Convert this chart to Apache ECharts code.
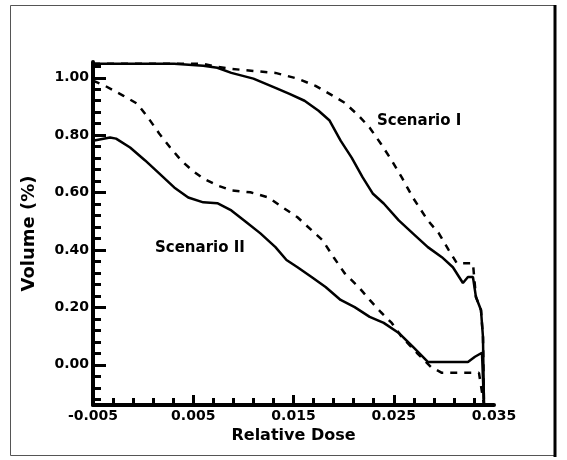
<!DOCTYPE html>
<html>
<head>
<meta charset="utf-8">
<script src="https://cdn.jsdelivr.net/npm/echarts@6/dist/echarts.min.js"></script>
<style>
html,body{margin:0;padding:0;background:#fff;}
#chart{width:567px;height:460px;}
</style>
</head>
<body>
<div id="chart"></div>
<script>
// ---- data ----
const xLabelValues = [-0.005, 0.005, 0.015, 0.025, 0.035];
const xTickLabels = ['-0.005', '0.005', '0.015', '0.025', '0.035'];
const xMinorTicks = [-0.005,-0.003,-0.001,0.001,0.003,0.005,0.007,0.009,0.011,0.013,0.015,0.017,0.019,0.021,0.023,0.025,0.027,0.029,0.031,0.033];
const yLabelValues = [0, 0.2, 0.4, 0.6, 0.8, 1.0];
const yTickLabels = ['0.00', '0.20', '0.40', '0.60', '0.80', '1.00'];
const yMinorTicks = [-0.12,-0.08,-0.04,0,0.04,0.08,0.12,0.16,0.2,0.24,0.28,0.32,0.36,0.4,0.44,0.48,0.52,0.56,0.6,0.64,0.68,0.72,0.76,0.8,0.84,0.88,0.92,0.96,1.0,1.04];

const scenarioISolid = [
  [-0.005,1.049],[-0.0023,1.049],[0.0031,1.049],[0.006,1.042],[0.0074,1.035],[0.0088,1.017],
  [0.011,0.997],[0.0132,0.965],[0.0146,0.944],[0.0161,0.920],[0.0175,0.885],[0.0186,0.851],
  [0.0197,0.781],[0.0208,0.722],[0.0219,0.653],[0.0229,0.597],[0.024,0.562],[0.0255,0.503],
  [0.0269,0.458],[0.0284,0.410],[0.0298,0.375],[0.0309,0.340],[0.0319,0.285],[0.0324,0.306],
  [0.0329,0.306],[0.0332,0.236],[0.0337,0.191],[0.0339,0.097],[0.034,-0.139]
];
const scenarioIDashed = [
  [-0.005,1.049],[0.006,1.049],[0.0074,1.038],[0.0088,1.031],[0.011,1.024],[0.0132,1.017],
  [0.0154,0.997],[0.0172,0.972],[0.0186,0.944],[0.0201,0.913],[0.0215,0.868],[0.0226,0.826],
  [0.0237,0.771],[0.0248,0.712],[0.0258,0.653],[0.0269,0.583],[0.0284,0.503],[0.0295,0.458],
  [0.0305,0.399],[0.0313,0.354],[0.0329,0.354],[0.0332,0.236],[0.0337,0.191],[0.0339,0.097],
  [0.034,-0.139]
];
const scenarioIISolid = [
  [-0.005,0.781],[-0.0033,0.792],[-0.0027,0.788],[-0.0013,0.757],[0.0002,0.712],[0.0016,0.667],
  [0.0031,0.618],[0.0045,0.583],[0.006,0.566],[0.0074,0.563],[0.0088,0.538],[0.0103,0.497],
  [0.0117,0.458],[0.0132,0.410],[0.0143,0.365],[0.0154,0.340],[0.0168,0.306],[0.0182,0.271],
  [0.0197,0.226],[0.0211,0.201],[0.0226,0.167],[0.024,0.146],[0.0255,0.111],[0.0269,0.063],
  [0.0284,0.010],[0.0298,0.010],[0.0324,0.010],[0.0331,0.028],[0.0338,0.042],[0.034,-0.139]
];
const scenarioIIDashed = [
  [-0.005,0.990],[-0.0038,0.972],[-0.002,0.938],[-0.0006,0.910],[0.0005,0.861],[0.0016,0.806],
  [0.0027,0.757],[0.0038,0.712],[0.0049,0.677],[0.006,0.649],[0.0074,0.625],[0.0088,0.608],
  [0.0107,0.601],[0.0125,0.583],[0.0139,0.549],[0.0154,0.514],[0.0168,0.469],[0.0179,0.434],
  [0.019,0.375],[0.0201,0.319],[0.0215,0.271],[0.0226,0.226],[0.0237,0.184],[0.0248,0.146],
  [0.0258,0.097],[0.0273,0.042],[0.0287,-0.007],[0.0298,-0.028],[0.0324,-0.028],[0.0335,-0.028],
  [0.034,-0.139]
];

const FONT = '"DejaVu Sans", "Liberation Sans", sans-serif';
const chart = echarts.init(document.getElementById('chart'), null, {renderer: 'canvas'});

function lineSeries(name, data, dashed) {
  return {
    name: name, type: 'line', data: data, xAxisIndex: 0, yAxisIndex: 0,
    symbol: 'none', smooth: false, animation: false,
    lineStyle: {color: '#000', width: 2.5, type: dashed ? [7, 7] : 'solid'}
  };
}

const option = {
  backgroundColor: '#fff',
  animation: false,
  grid: {left: 93, top: 62, right: 73, bottom: 55, containLabel: false},
  xAxis: [{
    type: 'value', min: -0.005, max: 0.035,
    name: 'Relative Dose', nameLocation: 'middle', nameGap: 23,
    nameTextStyle: {fontFamily: FONT, fontWeight: 'bold', fontSize: 16, color: '#000'},
    axisLine: {show: true, onZero: false, lineStyle: {color: '#000', width: 4}},
    axisTick: {show: true, inside: true, length: 10, lineStyle: {color: '#000', width: 3},
      customValues: [0.005, 0.015, 0.025]},
    axisLabel: {show: true, margin: 4, color: '#000', fontFamily: FONT, fontWeight: 'bold', fontSize: 14,
      customValues: xLabelValues,
      formatter: function (v) { const i = xLabelValues.findIndex(function (a) { return Math.abs(a - v) < 1e-9; }); return i >= 0 ? xTickLabels[i] : ''; }},
    splitLine: {show: false}
  }, {
    type: 'value', min: -0.005, max: 0.035, position: 'bottom', gridIndex: 0,
    axisLine: {show: false, onZero: false},
    axisTick: {show: true, inside: true, length: 7, lineStyle: {color: '#000', width: 3},
      customValues: xMinorTicks},
    axisLabel: {show: false},
    splitLine: {show: false}
  }],
  yAxis: [{
    type: 'value', min: -0.14, max: 1.055,
    name: 'Volume (%)', nameLocation: 'middle', nameGap: 55, nameRotate: 90,
    nameTextStyle: {fontFamily: FONT, fontWeight: 'bold', fontSize: 18, color: '#000'},
    axisLine: {show: true, onZero: false, lineStyle: {color: '#000', width: 4}},
    axisTick: {show: true, inside: true, length: 13, lineStyle: {color: '#000', width: 3},
      customValues: yLabelValues},
    axisLabel: {show: true, margin: 4, color: '#000', fontFamily: FONT, fontWeight: 'bold', fontSize: 14,
      customValues: yLabelValues,
      formatter: function (v) { const i = yLabelValues.findIndex(function (a) { return Math.abs(a - v) < 1e-9; }); return i >= 0 ? yTickLabels[i] : ''; }},
    splitLine: {show: false}
  }, {
    type: 'value', min: -0.14, max: 1.055, position: 'left', gridIndex: 0,
    axisLine: {show: false, onZero: false},
    axisTick: {show: true, inside: true, length: 8, lineStyle: {color: '#000', width: 3},
      customValues: yMinorTicks},
    axisLabel: {show: false},
    splitLine: {show: false}
  }],
  series: [
    lineSeries('Scenario I', scenarioISolid, false),
    lineSeries('Scenario I (dashed)', scenarioIDashed, true),
    lineSeries('Scenario II', scenarioIISolid, false),
    lineSeries('Scenario II (dashed)', scenarioIIDashed, true)
  ],
  graphic: [
    {type: 'rect', shape: {x: 10.5, y: 5.5, width: 545, height: 450}, style: {fill: 'none', stroke: '#555', lineWidth: 1}, silent: true},
    {type: 'line', shape: {x1: 555, y1: 5, x2: 555, y2: 457}, style: {stroke: '#000', lineWidth: 3}, silent: true},
    {type: 'text', left: 377, top: 114, style: {text: 'Scenario I', fontFamily: FONT, fontWeight: 'bold', fontSize: 15, fill: '#000'}, silent: true},
    {type: 'text', left: 155, top: 241, style: {text: 'Scenario II', fontFamily: FONT, fontWeight: 'bold', fontSize: 15, fill: '#000'}, silent: true}
  ]
};
chart.setOption(option);
</script>
</body>
</html>
